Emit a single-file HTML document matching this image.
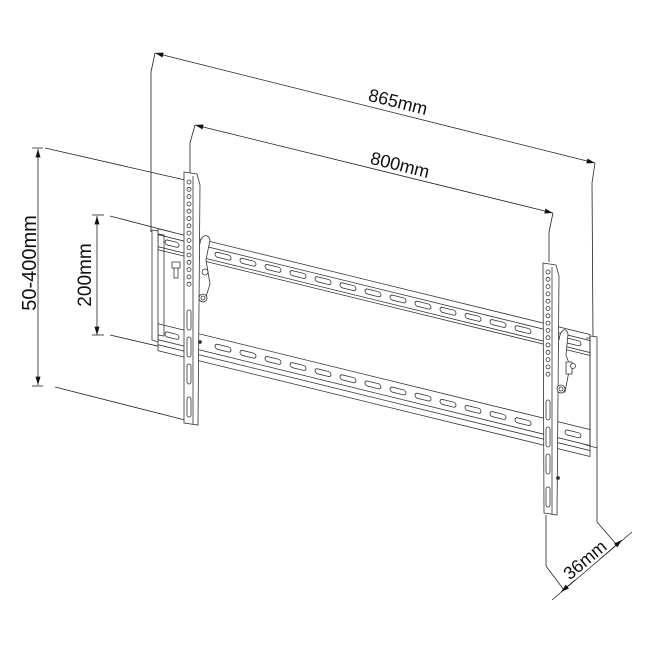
<!DOCTYPE html>
<html><head><meta charset="utf-8"><style>
html,body{margin:0;padding:0;background:#fff;width:650px;height:650px;overflow:hidden}
svg{display:block}
text{font-family:"Liberation Sans",Arial,sans-serif;fill:#111}
</style></head><body>
<svg width="650" height="650" viewBox="0 0 650 650" xmlns="http://www.w3.org/2000/svg">
<defs>
<marker id="a" viewBox="0 0 10 6" refX="10" refY="3" markerWidth="9" markerHeight="5" orient="auto-start-reverse" markerUnits="userSpaceOnUse"><path d="M0,0 L10,3 L0,6z" fill="#111"/></marker>
<g id="holes" fill="none" stroke="#333" stroke-width="0.8">
<circle cx="0" cy="0" r="2"/><circle cx="0" cy="7.3" r="2"/><circle cx="0" cy="14.6" r="2"/><circle cx="0" cy="21.9" r="2"/><circle cx="0" cy="29.2" r="2"/><circle cx="0" cy="36.5" r="2"/><circle cx="0" cy="43.8" r="2"/><circle cx="0" cy="51.1" r="2"/><circle cx="0" cy="58.4" r="2"/><circle cx="0" cy="65.7" r="2"/><circle cx="0" cy="73" r="2"/><circle cx="0" cy="80.3" r="2"/><circle cx="0" cy="87.6" r="2"/><circle cx="0" cy="94.9" r="2"/><circle cx="0" cy="102.2" r="2"/>
</g>
</defs>
<g stroke="#222" stroke-width="0.8" fill="none">
<line x1="151" y1="72" x2="151" y2="232"/>
<line x1="155" y1="53" x2="595" y2="163" marker-start="url(#a)" marker-end="url(#a)"/>
<line x1="155" y1="53" x2="151" y2="72"/>
<line x1="595" y1="163" x2="592" y2="183"/>
<line x1="592" y1="183" x2="593" y2="337"/>
<line x1="597" y1="447" x2="597" y2="522"/>
<line x1="195" y1="125" x2="553" y2="213" marker-start="url(#a)" marker-end="url(#a)"/>
<line x1="195" y1="125" x2="190" y2="143"/>
<line x1="190" y1="143" x2="190" y2="176"/>
<line x1="553" y1="213" x2="549" y2="232"/>
<line x1="549" y1="232" x2="549" y2="262"/>
<line x1="38" y1="149" x2="38" y2="385" marker-start="url(#a)" marker-end="url(#a)"/>
<line x1="32" y1="148" x2="43" y2="148"/>
<line x1="45" y1="148" x2="185" y2="180"/>
<line x1="32" y1="386" x2="43" y2="386"/>
<line x1="55" y1="387" x2="185" y2="420"/>
<line x1="97" y1="216" x2="97" y2="335" marker-start="url(#a)" marker-end="url(#a)"/>
<line x1="92" y1="215" x2="104" y2="215"/>
<line x1="110" y1="216" x2="183" y2="235"/>
<line x1="92" y1="335" x2="104" y2="335"/>
<line x1="110" y1="335" x2="183" y2="352"/>
<line x1="546" y1="515" x2="546" y2="566"/>
<line x1="546" y1="566" x2="564" y2="590"/>
<line x1="597" y1="522" x2="617" y2="545"/>
<line x1="552" y1="600" x2="632" y2="532"/>
<line x1="575" y1="580" x2="561" y2="592" marker-end="url(#a)"/>
<line x1="600" y1="559" x2="622" y2="540" marker-end="url(#a)"/>
</g>
<text x="398" y="108" font-size="18" text-anchor="middle" transform="rotate(14 398 102)">865mm</text>
<text x="400" y="171" font-size="18" text-anchor="middle" transform="rotate(14 400 165)">800mm</text>
<text x="29" y="270" font-size="20" text-anchor="middle" transform="rotate(-90 29 263)">50-400mm</text>
<text x="84" y="282" font-size="19" text-anchor="middle" transform="rotate(-90 84 275)">200mm</text>
<text x="585" y="566" font-size="18" text-anchor="middle" transform="rotate(-40 585 560)">36mm</text>

<g transform="matrix(1,0.245,0,1,0,0)" stroke="#333" stroke-width="0.8" fill="#fff">
<rect x="158" y="190" width="432" height="21"/>
<line x1="158" y1="196" x2="590" y2="196"/>
<line x1="158" y1="208" x2="590" y2="208"/>
<g fill="none">
<rect x="215" y="199" width="16" height="5" rx="2.5"/><rect x="240" y="199" width="16" height="5" rx="2.5"/><rect x="265" y="199" width="16" height="5" rx="2.5"/><rect x="290" y="199" width="16" height="5" rx="2.5"/><rect x="315" y="199" width="16" height="5" rx="2.5"/><rect x="340" y="199" width="16" height="5" rx="2.5"/><rect x="365" y="199" width="16" height="5" rx="2.5"/><rect x="390" y="199" width="16" height="5" rx="2.5"/><rect x="415" y="199" width="16" height="5" rx="2.5"/><rect x="440" y="199" width="16" height="5" rx="2.5"/><rect x="465" y="199" width="16" height="5" rx="2.5"/><rect x="490" y="199" width="16" height="5" rx="2.5"/><rect x="515" y="199" width="16" height="5" rx="2.5"/><rect x="565" y="199" width="16" height="5" rx="2.5"/><rect x="165" y="199" width="14" height="5" rx="2.5"/>
</g>
<rect x="158" y="285" width="432" height="27"/>
<line x1="158" y1="301" x2="590" y2="301"/>
<line x1="158" y1="306" x2="590" y2="306"/>
<g fill="none">
<rect x="215" y="291" width="16" height="5" rx="2.5"/><rect x="240" y="291" width="16" height="5" rx="2.5"/><rect x="265" y="291" width="16" height="5" rx="2.5"/><rect x="290" y="291" width="16" height="5" rx="2.5"/><rect x="315" y="291" width="16" height="5" rx="2.5"/><rect x="340" y="291" width="16" height="5" rx="2.5"/><rect x="365" y="291" width="16" height="5" rx="2.5"/><rect x="390" y="291" width="16" height="5" rx="2.5"/><rect x="415" y="291" width="16" height="5" rx="2.5"/><rect x="440" y="291" width="16" height="5" rx="2.5"/><rect x="465" y="291" width="16" height="5" rx="2.5"/><rect x="490" y="291" width="16" height="5" rx="2.5"/><rect x="515" y="291" width="16" height="5" rx="2.5"/><rect x="565" y="291" width="16" height="5" rx="2.5"/><rect x="165" y="291" width="14" height="5" rx="2.5"/>
</g>
</g>
<g stroke="#333" stroke-width="0.8" fill="none">
<path d="M152,230 L158,231 L158,342 L152,340 Z" fill="#fff"/>
<path d="M158,234 L164,235 L164,336 L158,335"/>
<path d="M590,336 L597,337 L597,448 L590,446 Z" fill="#fff"/>
<path d="M586,338 L590,338 L590,446 L586,445"/>
<path d="M172,262 h8 v6 h-8 z M174,268 v10 h4 v-10"/>
</g>
<g stroke="#333" stroke-width="0.8" fill="#fff">
<path d="M184,172 L197,174 L200,185 L198,425 L184,423 Z"/>
<line x1="193" y1="176" x2="193" y2="424" fill="none"/>
<path d="M200,244 C200,236 208,232 210,240 L206,260 L210,284 L205,300 L200,300" />
<circle cx="205" cy="272" r="3"/>
<circle cx="203" cy="298" r="4"/><circle cx="203" cy="298" r="2"/>
<circle cx="200" cy="342" r="1.5" fill="#333"/>
</g>
<use href="#holes" x="189" y="182"/>
<g stroke="#333" stroke-width="0.8" fill="none">
<rect x="187" y="310" width="4" height="20" rx="2"/><rect x="187" y="337" width="4" height="20" rx="2"/><rect x="187" y="364" width="4" height="20" rx="2"/><rect x="187" y="397" width="4" height="20" rx="2"/>
</g>
<g stroke="#333" stroke-width="0.8" fill="#fff">
<path d="M543,263 L556,265 L559,276 L557,515 L544,513 Z"/>
<line x1="552" y1="267" x2="552" y2="514" fill="none"/>
<path d="M559,340 C560,330 566,326 568,334 L566,355 L570,366 L565,392 L559,392"/>
<path d="M566,362 h6 v12 h-6 z"/><circle cx="573" cy="366" r="2.5"/>
<circle cx="561" cy="389" r="4"/><circle cx="561" cy="389" r="2"/>
<circle cx="558" cy="478" r="1.5" fill="#333"/>
</g>
<use href="#holes" x="548" y="272"/>
<g stroke="#333" stroke-width="0.8" fill="none">
<rect x="546" y="400" width="4" height="20" rx="2"/><rect x="546" y="427" width="4" height="20" rx="2"/><rect x="546" y="454" width="4" height="20" rx="2"/><rect x="546" y="487" width="4" height="20" rx="2"/>
</g>
</svg>
</body></html>
